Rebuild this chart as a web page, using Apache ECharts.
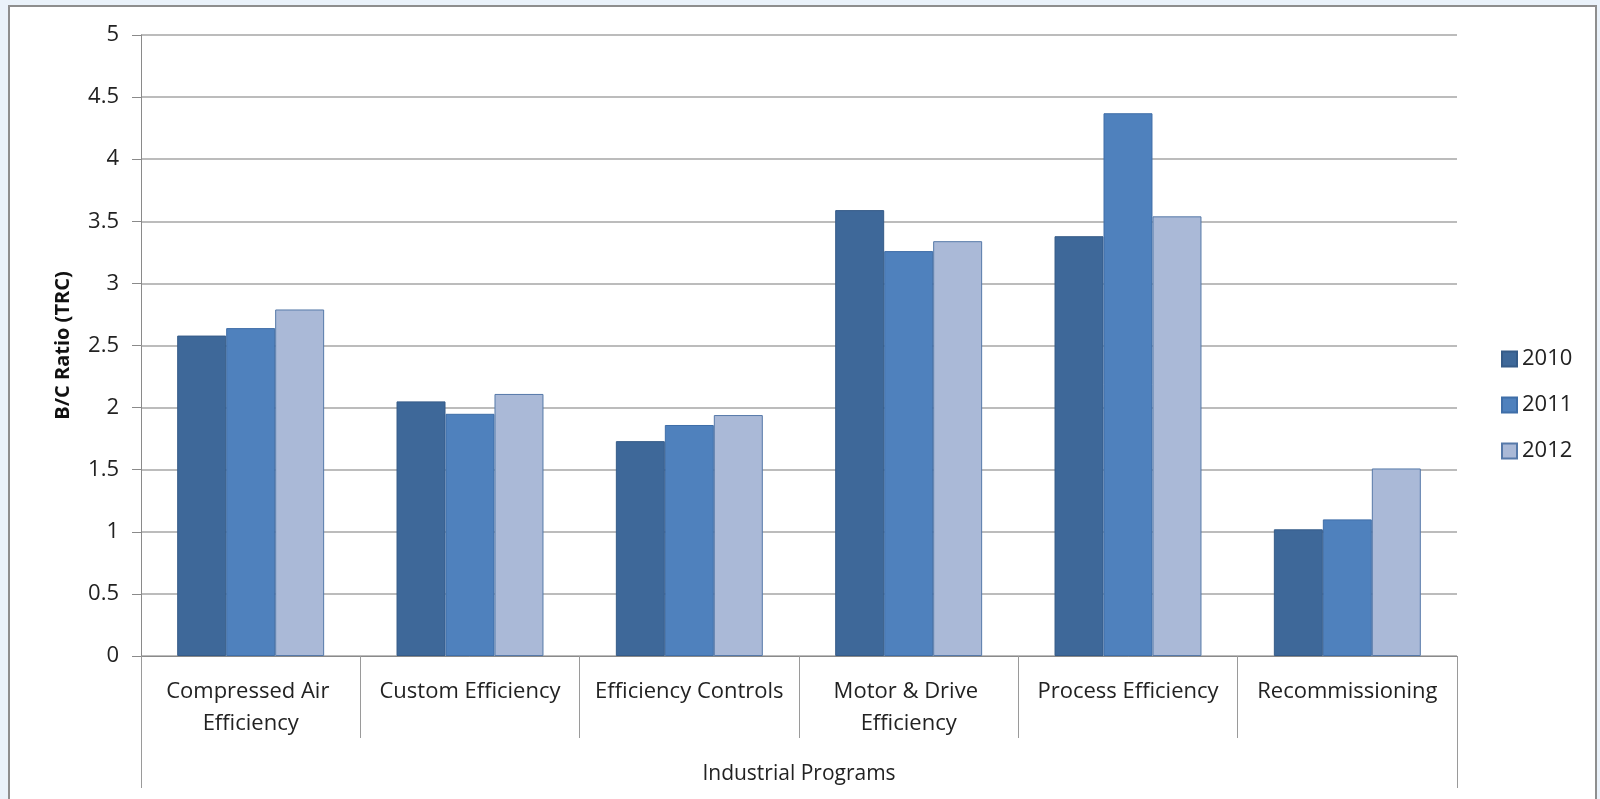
<!DOCTYPE html>
<html>
<head>
<meta charset="utf-8">
<script src="https://cdn.jsdelivr.net/npm/echarts@6/dist/echarts.min.js"></script>
<style>
  html, body { margin: 0; padding: 0; width: 1600px; height: 799px; overflow: hidden; background: #eaf2fa; }
  #frame { position: absolute; left: 8px; top: 5px; width: 1589px; height: 900px; background: #ffffff; border: 2px solid #8e8e8e; box-sizing: border-box; }
  #chart { position: absolute; left: 0; top: 0; width: 1600px; height: 799px; }
</style>
</head>
<body>
<div id="frame"></div>
<div id="chart"></div>
<script>
const categories = ['Compressed Air Efficiency', 'Custom Efficiency', 'Efficiency Controls', 'Motor & Drive Efficiency', 'Process Efficiency', 'Recommissioning'];
const groupLabel = ['Industrial Programs'];
const seriesNames = ['2010', '2011', '2012'];
const values2010 = [2.58, 2.05, 1.73, 3.59, 3.38, 1.02];
const values2011 = [2.64, 1.95, 1.86, 3.26, 4.37, 1.10];
const values2012 = [2.79, 2.11, 1.94, 3.34, 3.54, 1.51];
const yAxisTitle = 'B/C Ratio (TRC)';

const fontFamily = 'Open Sans';
const fills = ['#3e6899', '#4f81bd', '#aab9d7'];
const borders = ['#355b88', '#3f6ea8', '#5679a9'];
const allValues = [values2010, values2011, values2012];

const chart = echarts.init(document.getElementById('chart'), null, { renderer: 'canvas' });
chart.setOption({
  animation: false,
  backgroundColor: 'transparent',
  textStyle: { fontFamily: fontFamily },
  grid: { left: 141, right: 143, top: 35, bottom: 143, containLabel: false },
  legend: {
    data: seriesNames,
    orient: 'vertical',
    left: 1496,
    top: 343,
    itemWidth: 15,
    itemHeight: 15,
    itemGap: 24,
    icon: 'rect',
    textStyle: { fontFamily: fontFamily, fontSize: 22, color: '#222' }
  },
  xAxis: [
    {
      type: 'category',
      data: categories,
      position: 'bottom',
      axisLine: { show: true, lineStyle: { color: '#8a8a8a', width: 1 } },
      axisTick: { show: true, interval: 0, length: 82, lineStyle: { color: '#9a9a9a', width: 1 } },
      axisLabel: {
        interval: 0,
        margin: 20,
        fontFamily: fontFamily,
        fontSize: 22,
        lineHeight: 32,
        color: '#222',
        width: 210,
        overflow: 'break',
        align: 'center'
      },
      splitLine: { show: false }
    },
    {
      type: 'category',
      data: groupLabel,
      position: 'bottom',
      gridIndex: 0,
      axisLine: { show: false },
      axisTick: { show: true, interval: 0, length: 132, lineStyle: { color: '#9a9a9a', width: 1 } },
      axisLabel: { interval: 0, margin: 108, fontFamily: fontFamily, fontSize: 21, color: '#222' },
      splitLine: { show: false }
    }
  ],
  yAxis: {
    type: 'value',
    min: 0,
    max: 5,
    interval: 0.5,
    name: yAxisTitle,
    nameLocation: 'middle',
    nameGap: 68,
    nameRotate: 90,
    nameTextStyle: { fontFamily: fontFamily, fontSize: 20, fontWeight: 'bold', color: '#111' },
    axisLine: { show: true, lineStyle: { color: '#8a8a8a', width: 1 } },
    axisTick: { show: true, length: 9, lineStyle: { color: '#8a8a8a', width: 1 } },
    axisLabel: { margin: 22, fontFamily: fontFamily, fontSize: 22, color: '#222' },
    splitLine: { show: true, lineStyle: { color: '#a6a6a6', width: 1.5 } }
  },
  series: seriesNames.map((name, i) => ({
    name: name,
    type: 'bar',
    xAxisIndex: 0,
    data: allValues[i],
    barGap: '0%',
    barCategoryGap: '33%',
    itemStyle: { color: fills[i], borderColor: borders[i], borderWidth: 1 }
  }))
});
</script>
</body>
</html>
